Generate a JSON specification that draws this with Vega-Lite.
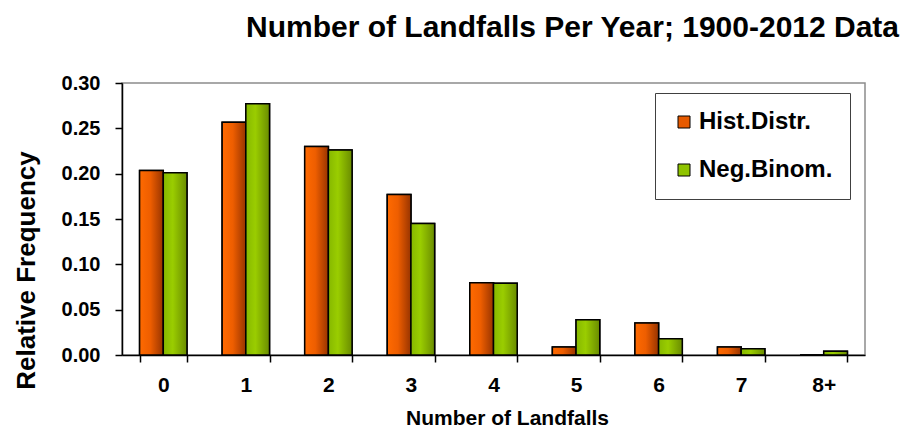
{
  "$schema": "https://vega.github.io/schema/vega-lite/v6.json",
  "autosize": {"type": "none"},
  "width": 743,
  "height": 272,
  "padding": {"left": 122, "top": 83, "right": 55, "bottom": 73},
  "background": "white",
  "title": {
    "text": "Number of Landfalls Per Year; 1900-2012 Data",
    "font": "Liberation Sans",
    "fontSize": 30,
    "fontWeight": "bold",
    "color": "black",
    "anchor": "middle",
    "dx": 79,
    "offset": 30
  },
  "data": {
    "values": [
      {"n": "0", "series": "Hist.Distr.", "freq": 0.2035},
      {"n": "1", "series": "Hist.Distr.", "freq": 0.2566},
      {"n": "2", "series": "Hist.Distr.", "freq": 0.2301},
      {"n": "3", "series": "Hist.Distr.", "freq": 0.1770},
      {"n": "4", "series": "Hist.Distr.", "freq": 0.0796},
      {"n": "5", "series": "Hist.Distr.", "freq": 0.0088},
      {"n": "6", "series": "Hist.Distr.", "freq": 0.0354},
      {"n": "7", "series": "Hist.Distr.", "freq": 0.0088},
      {"n": "8+", "series": "Hist.Distr.", "freq": 0.0},
      {"n": "0", "series": "Neg.Binom.", "freq": 0.201},
      {"n": "1", "series": "Neg.Binom.", "freq": 0.277},
      {"n": "2", "series": "Neg.Binom.", "freq": 0.226},
      {"n": "3", "series": "Neg.Binom.", "freq": 0.145},
      {"n": "4", "series": "Neg.Binom.", "freq": 0.079},
      {"n": "5", "series": "Neg.Binom.", "freq": 0.039},
      {"n": "6", "series": "Neg.Binom.", "freq": 0.018},
      {"n": "7", "series": "Neg.Binom.", "freq": 0.007},
      {"n": "8+", "series": "Neg.Binom.", "freq": 0.004}
    ]
  },
  "encoding": {
    "x": {
      "field": "n",
      "type": "nominal",
      "sort": ["0", "1", "2", "3", "4", "5", "6", "7", "8+"],
      "scale": {"paddingInner": 0.426, "paddingOuter": 0.213},
      "axis": {
        "title": "Number of Landfalls",
        "labelAngle": 0,
        "tickBand": "extent",
        "tickSize": 7,
        "labelPadding": 12,
        "labelFontSize": 21,
        "titleFontSize": 21,
        "titleX": 385,
        "titleY": 69,
        "titleBaseline": "alphabetic",
        "titleAlign": "center"
      }
    },
    "y": {
      "field": "freq",
      "type": "quantitative",
      "scale": {"domain": [0, 0.3], "nice": false},
      "axis": {
        "title": "Relative Frequency",
        "values": [0, 0.05, 0.1, 0.15, 0.2, 0.25, 0.3],
        "format": ".2f",
        "tickSize": 7,
        "labelPadding": 15,
        "labelFontSize": 20,
        "titleFontSize": 26,
        "titleX": -88,
        "titleY": 187,
        "titleAlign": "center",
        "titleBaseline": "alphabetic"
      }
    },
    "xOffset": {
      "field": "series",
      "type": "nominal",
      "scale": {"domain": ["Hist.Distr.", "Neg.Binom."], "paddingInner": 0, "paddingOuter": 0}
    }
  },
  "layer": [
    {
      "mark": {"type": "bar", "stroke": "black", "strokeWidth": 1.5},
      "encoding": {
        "color": {
          "field": "series",
          "type": "nominal",
          "scale": {"domain": ["Hist.Distr.", "Neg.Binom."], "range": ["#E65A00", "#8FC400"]},
          "legend": {
            "title": null,
            "orient": "none",
            "legendX": 533,
            "legendY": 10,
            "symbolType": "square",
            "symbolSize": 144,
            "symbolStrokeColor": "black",
            "symbolStrokeWidth": 1,
            "labelFontSize": 24,
            "labelFont": "Liberation Sans",
            "labelFontWeight": "bold",
            "labelColor": "black",
            "labelOffset": 3,
            "rowPadding": 24,
            "padding": 17,
            "strokeColor": "#404040",
            "fillColor": "white"
          }
        }
      }
    },
    {
      "transform": [{"filter": "datum.series === 'Hist.Distr.'"}],
      "mark": {
        "type": "bar",
        "stroke": "black",
        "strokeWidth": 1.5,
        "fill": {
          "gradient": "linear",
          "x1": 0, "y1": 0, "x2": 1, "y2": 0,
          "stops": [
            {"offset": 0, "color": "#FF6A00"},
            {"offset": 0.45, "color": "#EE5E00"},
            {"offset": 1, "color": "#983400"}
          ]
        }
      },
      "encoding": {}
    },
    {
      "transform": [{"filter": "datum.series === 'Neg.Binom.'"}],
      "mark": {
        "type": "bar",
        "stroke": "black",
        "strokeWidth": 1.5,
        "fill": {
          "gradient": "linear",
          "x1": 0, "y1": 0, "x2": 1, "y2": 0,
          "stops": [
            {"offset": 0, "color": "#86B800"},
            {"offset": 0.4, "color": "#9ACD00"},
            {"offset": 1, "color": "#6A8C00"}
          ]
        }
      },
      "encoding": {}
    }
  ],
  "config": {
    "font": "Liberation Sans",
    "view": {"stroke": "#8C8C8C", "strokeWidth": 1.5},
    "axis": {
      "grid": false,
      "domainColor": "black",
      "domainWidth": 1.5,
      "tickColor": "black",
      "tickWidth": 1.5,
      "labelColor": "black",
      "labelFont": "Liberation Sans",
      "labelFontWeight": "bold",
      "titleColor": "black",
      "titleFont": "Liberation Sans",
      "titleFontWeight": "bold"
    }
  }
}
